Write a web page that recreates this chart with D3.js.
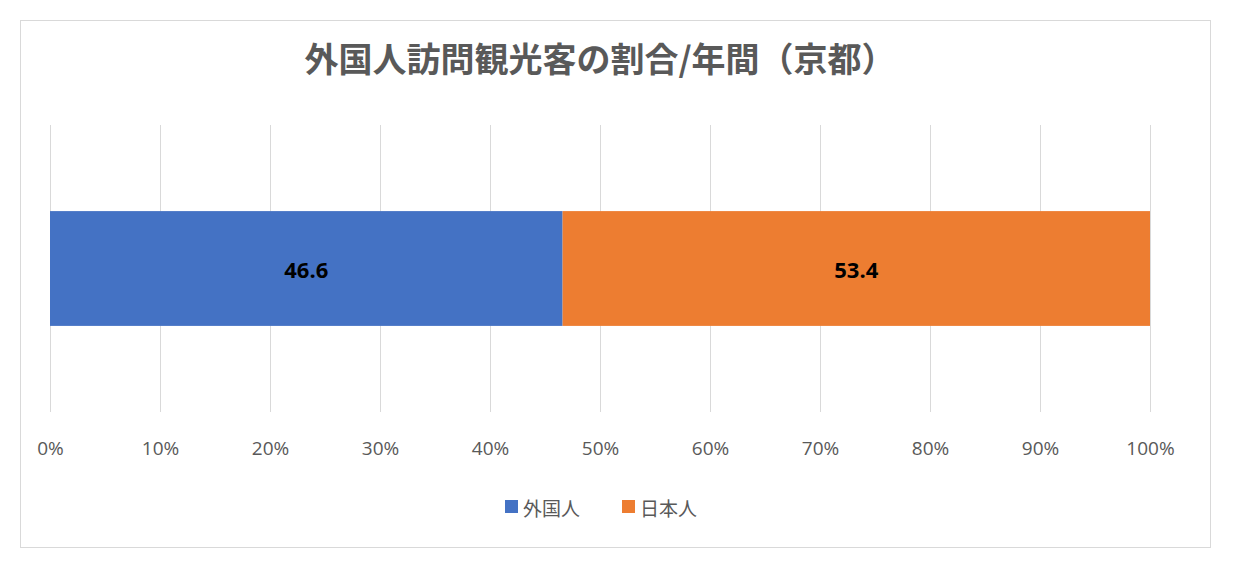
<!DOCTYPE html>
<html><head><meta charset="utf-8">
<script src="https://cdn.jsdelivr.net/npm/d3@7"></script>
<style>body{margin:0;background:#fff}svg{font-family:"Noto Sans CJK JP","Noto Sans",sans-serif}</style>
</head><body><svg id="c" width="1260" height="567"></svg>
<script>
const series = ["外国人","日本人"];
const values = [46.6, 53.4];
const colors = ["#4472C4","#ED7D31"];
const ticks = [0,10,20,30,40,50,60,70,80,90,100];
const title = "外国人訪問観光客の割合/年間（京都）";

const svg = d3.select("#c");
svg.append("rect").attr("x",20.5).attr("y",20.5).attr("width",1190).attr("height",527)
  .attr("fill","#fff").attr("stroke","#d9d9d9");
const x = d3.scaleLinear().domain([0,100]).range([50,1150]);
const y = d3.scaleBand().domain(["京都"]).range([125,412]).paddingInner(0.6).paddingOuter(0.3);

svg.append("g").attr("transform","translate(0,412)")
  .call(d3.axisBottom(x).tickValues(ticks).tickFormat(d=>d+"%").tickSize(-287).tickPadding(30))
  .call(g=>g.select(".domain").remove())
  .call(g=>g.selectAll("line").attr("stroke","#d9d9d9"))
  .call(g=>g.selectAll("text").attr("fill","#595959").attr("font-size",19).attr("font-family","Open Sans, Noto Sans, sans-serif"));

let acc=0;
const segs = values.map((v,i)=>{const s={x0:acc,x1:acc+v,v,c:colors[i]};acc+=v;return s;});
svg.selectAll(".bar").data(segs).enter().append("rect")
  .attr("x",d=>x(d.x0)).attr("width",d=>x(d.x1)-x(d.x0))
  .attr("y",y("京都")).attr("height",y.bandwidth()).attr("fill",d=>d.c);
svg.selectAll(".lbl").data(segs).enter().append("text")
  .attr("x",d=>(x(d.x0)+x(d.x1))/2).attr("y",y("京都")+y.bandwidth()/2)
  .attr("text-anchor","middle").attr("dominant-baseline","central")
  .attr("font-size",22).attr("font-weight","bold").attr("fill","#000")
  .attr("font-family","Open Sans, Noto Sans, sans-serif").text(d=>d.v.toFixed(1));

svg.append("text").attr("x",600).attr("y",72).attr("text-anchor","middle")
  .attr("font-size",34).attr("font-weight","bold").attr("fill","#595959").text(title);

const lg = svg.append("g");
const lx=[505,622];
series.forEach((s,i)=>{
  lg.append("rect").attr("x",lx[i]).attr("y",500).attr("width",13).attr("height",13).attr("fill",colors[i]);
  lg.append("text").attr("x",lx[i]+18).attr("y",507).attr("dominant-baseline","central")
    .attr("font-size",19).attr("fill","#595959").text(s);
});
</script></body></html>
